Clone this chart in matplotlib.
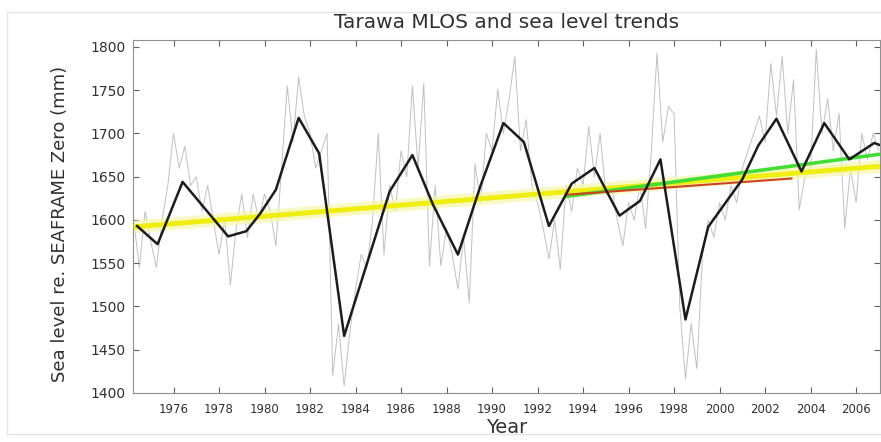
"""
Tarawa MLOS and sea level trends -- recreated from the published figure.
Values were read off the picture by eye.
"""
import numpy as np
import matplotlib
matplotlib.use("Agg")
import matplotlib.pyplot as plt
from matplotlib.patches import Rectangle

# --- grey: sub-annual sea level (quarter-year steps from 1974.25) ---
grey_start = 1974.25
grey_step = 0.25
grey_level = [
    1600, 1545, 1610, 1575, 1545, 1600, 1640, 1700, 1660, 1685, 1640, 1650,
    1610, 1640, 1600, 1560, 1600, 1525, 1590, 1630, 1580, 1630, 1600, 1630,
    1610, 1570, 1660, 1755, 1690, 1765, 1720, 1700, 1660, 1680, 1700, 1420,
    1480, 1408, 1470, 1520, 1560, 1545, 1600, 1700, 1560, 1640, 1610, 1680,
    1650, 1755, 1660, 1758, 1547, 1640, 1547, 1590, 1560, 1520, 1580, 1504,
    1665, 1620, 1700, 1680, 1751, 1700, 1740, 1789, 1680, 1716, 1640, 1620,
    1590, 1555, 1600, 1543, 1640, 1610, 1660, 1640, 1708, 1650, 1700, 1630,
    1640, 1600, 1570, 1620, 1600, 1640, 1590, 1680, 1793, 1690, 1731, 1723,
    1500, 1416, 1480, 1428, 1560, 1600, 1580, 1620, 1600, 1640, 1620, 1660,
    1680, 1700, 1720, 1690, 1781, 1720, 1789, 1700, 1762, 1612, 1650, 1660,
    1797, 1700, 1740, 1680, 1723, 1590, 1660, 1620, 1700, 1670, 1700, 1680,
]
grey_year = grey_start + grey_step * np.arange(len(grey_level))

# --- black: smoothed annual sea level ---
annual_year = [1974.4, 1975.3, 1976.4, 1978.4, 1979.2, 1979.8, 1980.5, 1981.5,
               1982.4, 1983.5, 1985.5, 1986.5, 1987.4, 1988.5, 1989.5, 1990.5,
               1991.4, 1992.5, 1993.5, 1994.5, 1995.6, 1996.5, 1997.4, 1998.5,
               1999.5, 2001.0, 2001.7, 2002.5, 2003.6, 2004.6, 2005.7, 2006.8,
               2007.1]
annual_level = [1593, 1572, 1644, 1581, 1587, 1607, 1635, 1718,
                1677, 1466, 1633, 1675, 1618, 1560, 1640, 1712,
                1690, 1593, 1642, 1660, 1605, 1622, 1670, 1485,
                1592, 1647, 1686, 1717, 1656, 1712, 1670, 1689,
                1686]

# --- linear trends ---
yellow_year = [1974.25, 2007.05]
yellow_level = [1592, 1662]
green_year = [1993.2, 2007.05]
green_level = [1627, 1676]
red_year = [1993.2, 2003.2]
red_level = [1629, 1648]

xtick_years = list(range(1976, 2007, 2))
ytick_levels = list(range(1400, 1801, 50))

W, H = 881, 442
fig = plt.figure(figsize=(W / 100, H / 100), dpi=100)
fig.patches.append(Rectangle((7 / W, 1 - 434 / H), 1.0, (434 - 12) / H,
                             transform=fig.transFigure, fill=False,
                             edgecolor="#e4e4e4", lw=1.0))

ax = fig.add_axes([133 / W, 1 - 393 / H, (880 - 133) / W, (393 - 40) / H])

ax.plot(grey_year, grey_level, color="#c0c0c0", lw=0.7, zorder=1)
ax.plot(yellow_year, yellow_level, color="#f6f6a8", lw=9, alpha=0.7,
        solid_capstyle="butt", zorder=2)
ax.plot(yellow_year, yellow_level, color="#eeee10", lw=3.5,
        solid_capstyle="butt", zorder=3)
ax.plot(green_year, green_level, color="#44dd33", lw=2.6,
        solid_capstyle="butt", zorder=4)
ax.plot(red_year, red_level, color="#cc4422", lw=1.5,
        solid_capstyle="butt", zorder=5)
ax.plot(annual_year, annual_level, color="#1c1c1c", lw=1.8, zorder=6)

ax.set_xlim(1974.22, 2007.05)
ax.set_ylim(1400, 1808)
ax.set_xticks(xtick_years)
ax.set_yticks(ytick_levels)
ax.tick_params(axis="both", direction="in", length=4, width=0.8,
               color="#606060", top=True, right=True)
ax.tick_params(axis="x", labelsize=8.5, pad=7, labelcolor="#303030")
ax.tick_params(axis="y", labelsize=10, pad=5, labelcolor="#303030")
for sp in ax.spines.values():
    sp.set_color("#909090")
    sp.set_linewidth(0.8)

ax.set_ylabel("Sea level re. SEAFRAME Zero (mm)", fontsize=13, color="#303030")
ax.yaxis.set_label_coords(-0.086, 0.479)
ax.set_xlabel("Year", fontsize=14, color="#303030")
ax.xaxis.set_label_coords(0.5, -0.07)

fig.text(507 / W, 1 - 22 / H, "Tarawa MLOS and sea level trends",
         ha="center", va="center", fontsize=14.5, color="#303030")

fig.savefig("out.png", dpi=100)
print("wrote out.png")
